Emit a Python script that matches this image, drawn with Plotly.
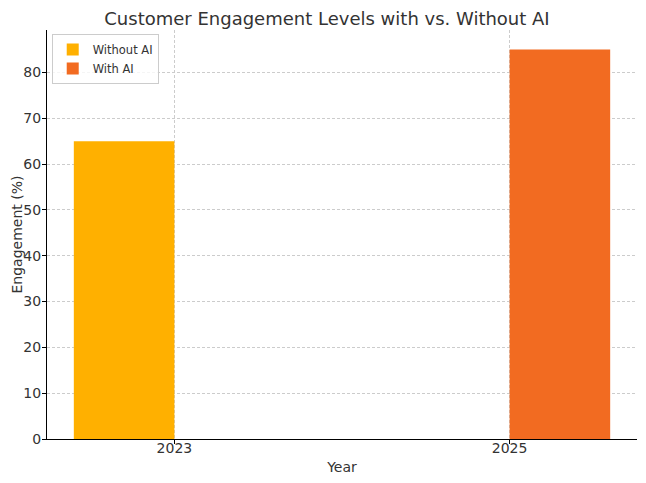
import plotly.graph_objects as go

years = [2023, 2025]
without_ai = [65, 0]
with_ai = [0, 85]
bar_width = 0.6

fig = go.Figure()
fig.add_trace(go.Bar(x=years, y=without_ai, name="Without AI", width=bar_width,
                     offset=-bar_width, marker=dict(color="#FFB000", line=dict(width=0))))
fig.add_trace(go.Bar(x=years, y=with_ai, name="With AI", width=bar_width,
                     offset=0, marker=dict(color="#F26B21", line=dict(width=0))))

font = "DejaVu Sans"
fig.update_layout(
    width=638, height=475,
    margin=dict(l=39, r=9, t=22, b=44, autoexpand=False),
    paper_bgcolor="white", plot_bgcolor="white",
    barmode="overlay",
    font=dict(family=font, size=13, color="#333333"),
    title=dict(text="Customer Engagement Levels with vs. Without AI", x=0.5, xanchor="center",
               y=1.0, yref="container", yanchor="top", pad=dict(t=4, b=0),
               font=dict(size=18, color="#333333")),
    legend=dict(x=0.008, y=0.99, xanchor="left", yanchor="top", bgcolor="rgba(255,255,255,0.8)",
                bordercolor="#cccccc", borderwidth=1, font=dict(size=11.5),
                traceorder="normal"),
    xaxis=dict(range=[2022.24, 2025.76], tickmode="array", tickvals=years,
               ticktext=[str(y) for y in years], automargin=False,
               showline=True, linecolor="black", linewidth=1.2, ticks="outside", ticklen=4,
               tickcolor="black", showgrid=True, gridcolor="#cccccc", griddash="3px,2px",
               gridwidth=0.7, zeroline=False, ticklabelstandoff=-8,
               title=dict(text="Year", font=dict(size=14), standoff=7),
               tickfont=dict(size=14)),
    yaxis=dict(range=[0, 89.25], tickmode="array", tickvals=list(range(0, 90, 10)),
               showline=True, linecolor="black", linewidth=1.2, ticks="outside", ticklen=4,
               tickcolor="black", showgrid=True, gridcolor="#cccccc", griddash="3px,2px",
               gridwidth=0.7, zeroline=False, automargin=False, ticklabelstandoff=-2,
               tickfont=dict(size=14)),
    annotations=[dict(text="Engagement (%)", textangle=-90, xref="paper", yref="paper",
                      x=0, y=0.5, xanchor="right", yanchor="middle", xshift=-21,
                      showarrow=False, font=dict(size=14, color="#333333"))],
)
fig.write_html("out.html")
